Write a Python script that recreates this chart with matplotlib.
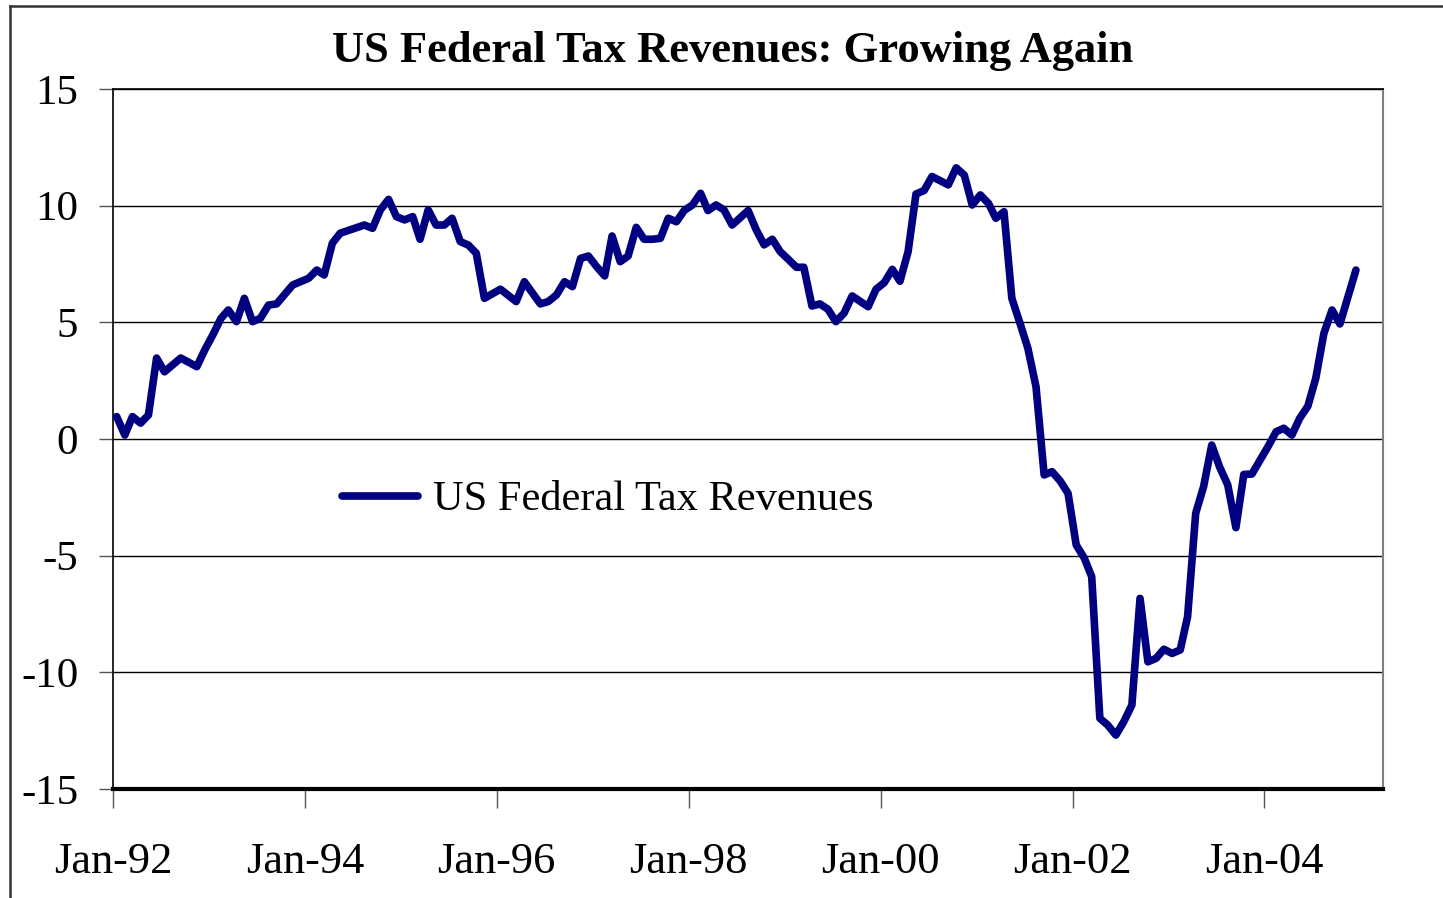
import pandas as pd
import matplotlib
matplotlib.use('Agg')
import matplotlib.pyplot as plt
import matplotlib.dates as mdates
from matplotlib.lines import Line2D

# monthly growth rates (%), only the months where the line bends
months = ['1992-01', '1992-02', '1992-03', '1992-04', '1992-05', '1992-06', '1992-07',
          '1992-09', '1992-11', '1992-12', '1993-01', '1993-02', '1993-03', '1993-04',
          '1993-05', '1993-06', '1993-07', '1993-08', '1993-09', '1993-11', '1994-01',
          '1994-02', '1994-03', '1994-04', '1994-05', '1994-08', '1994-09', '1994-10',
          '1994-11', '1994-12', '1995-01', '1995-02', '1995-03', '1995-04', '1995-05',
          '1995-06', '1995-07', '1995-08', '1995-09', '1995-10', '1995-11', '1996-01',
          '1996-03', '1996-04', '1996-05', '1996-06', '1996-07', '1996-08', '1996-09',
          '1996-10', '1996-11', '1996-12', '1997-01', '1997-02', '1997-03', '1997-04',
          '1997-05', '1997-06', '1997-07', '1997-08', '1997-09', '1997-10', '1997-11',
          '1997-12', '1998-01', '1998-02', '1998-03', '1998-04', '1998-05', '1998-06',
          '1998-08', '1998-09', '1998-10', '1998-11', '1998-12', '1999-01', '1999-02',
          '1999-03', '1999-04', '1999-05', '1999-06', '1999-07', '1999-08', '1999-09',
          '1999-11', '1999-12', '2000-01', '2000-02', '2000-03', '2000-04', '2000-05',
          '2000-06', '2000-07', '2000-09', '2000-10', '2000-11', '2000-12', '2001-01',
          '2001-02', '2001-03', '2001-04', '2001-05', '2001-06', '2001-07', '2001-08',
          '2001-09', '2001-10', '2001-11', '2001-12', '2002-01', '2002-02', '2002-03',
          '2002-04', '2002-05', '2002-06', '2002-07', '2002-08', '2002-09', '2002-10',
          '2002-11', '2002-12', '2003-01', '2003-02', '2003-03', '2003-04', '2003-05',
          '2003-06', '2003-07', '2003-08', '2003-09', '2003-10', '2003-11', '2004-01',
          '2004-02', '2004-03', '2004-04', '2004-05', '2004-06', '2004-07', '2004-08',
          '2004-09', '2004-10', '2004-12']
revenues = [0.96, 0.17, 0.96, 0.68, 1.03, 3.47, 2.88,
            3.47, 3.10, 3.81, 4.46, 5.17, 5.53, 5.03,
            6.03, 5.03, 5.17, 5.74, 5.79, 6.60, 6.89,
            7.24, 7.03, 8.39, 8.82, 9.17, 9.03, 9.82,
            10.27, 9.53, 9.39, 9.53, 8.56, 9.82, 9.17,
            9.17, 9.46, 8.46, 8.31, 7.96, 6.03, 6.42,
            5.89, 6.74, 6.27, 5.79, 5.89, 6.17, 6.74,
            6.53, 7.74, 7.84, 7.39, 6.99, 8.70, 7.60,
            7.84, 9.07, 8.56, 8.56, 8.60, 9.46, 9.31,
            9.80, 10.03, 10.53, 9.79, 10.03, 9.82, 9.17,
            9.79, 8.96, 8.32, 8.56, 8.03, 7.70, 7.36,
            7.36, 5.70, 5.79, 5.56, 5.03, 5.39, 6.13,
            5.67, 6.42, 6.70, 7.27, 6.76, 8.03, 10.50,
            10.65, 11.25, 10.89, 11.62, 11.31, 10.03, 10.46,
            10.10, 9.46, 9.74, 6.03, 4.96, 3.89, 2.24,
            -1.54, -1.40, -1.80, -2.33, -4.54, -5.11, -5.90,
            -11.97, -12.26, -12.69, -12.12, -11.40, -6.83, -9.55,
            -9.40, -9.01, -9.19, -9.04, -7.62, -3.18, -2.04,
            -0.26, -1.20, -1.97, -3.80, -1.52, -1.50, -0.33,
            0.31, 0.46, 0.17, 0.89, 1.41, 2.60, 4.53,
            5.53, 4.93, 7.24]
series_name = 'US Federal Tax Revenues'
title = 'US Federal Tax Revenues: Growing Again'

plt.rcParams['font.family'] = 'Liberation Serif'
plt.rcParams['axes.unicode_minus'] = False

dates = pd.to_datetime([m + '-15' for m in months])

fig = plt.figure(figsize=(14.43, 8.98), dpi=100)
W, H = 1443, 898
ax = fig.add_axes([113 / W, 1 - 789 / H, 1270 / W, 700 / H])

ax.plot(dates, revenues, color='#000080', lw=5.5, solid_capstyle='round',
        solid_joinstyle='round', label=series_name, zorder=3)

ax.set_ylim(-15, 15)
ax.set_yticks(range(-15, 16, 5))
ax.set_xlim(pd.Timestamp('1992-01-01'), pd.Timestamp('2005-03-28'))
ax.set_xticks(pd.to_datetime(['%d-01-01' % y for y in range(1992, 2005, 2)]))
ax.xaxis.set_major_formatter(mdates.DateFormatter('%b-%y'))

ax.yaxis.grid(True, color='black', lw=1)
ax.set_axisbelow(True)
ax.tick_params(axis='y', length=10, width=1, color='#555555', pad=15, labelsize=31)
ax.tick_params(axis='x', length=14, width=1, color='#555555', pad=24, labelsize=32)

ax.spines['top'].set_linewidth(1.2)
ax.spines['right'].set_color('#808080')
ax.spines['right'].set_linewidth(1.5)
ax.spines['left'].set_linewidth(1.2)
ax.spines['bottom'].set_linewidth(3)

ax.legend(loc='center left', bbox_to_anchor=(342 / W, 1 - 500 / H),
          bbox_transform=fig.transFigure, frameon=False, fontsize=30.5,
          handlelength=1.8, handletextpad=0.35, borderpad=0, borderaxespad=0)

fig.text(733 / W, 1 - 62 / H, title, ha='center', va='baseline',
         fontsize=32, fontweight='bold')

# outer frame of the chart area
fig.add_artist(Line2D([10 / W, 10 / W], [0, 1 - 6 / H], transform=fig.transFigure,
                      color='#333333', lw=1.8))
fig.add_artist(Line2D([10 / W, 1], [1 - 6 / H, 1 - 6 / H], transform=fig.transFigure,
                      color='#333333', lw=1.8))

fig.savefig('out.png', dpi=100)
